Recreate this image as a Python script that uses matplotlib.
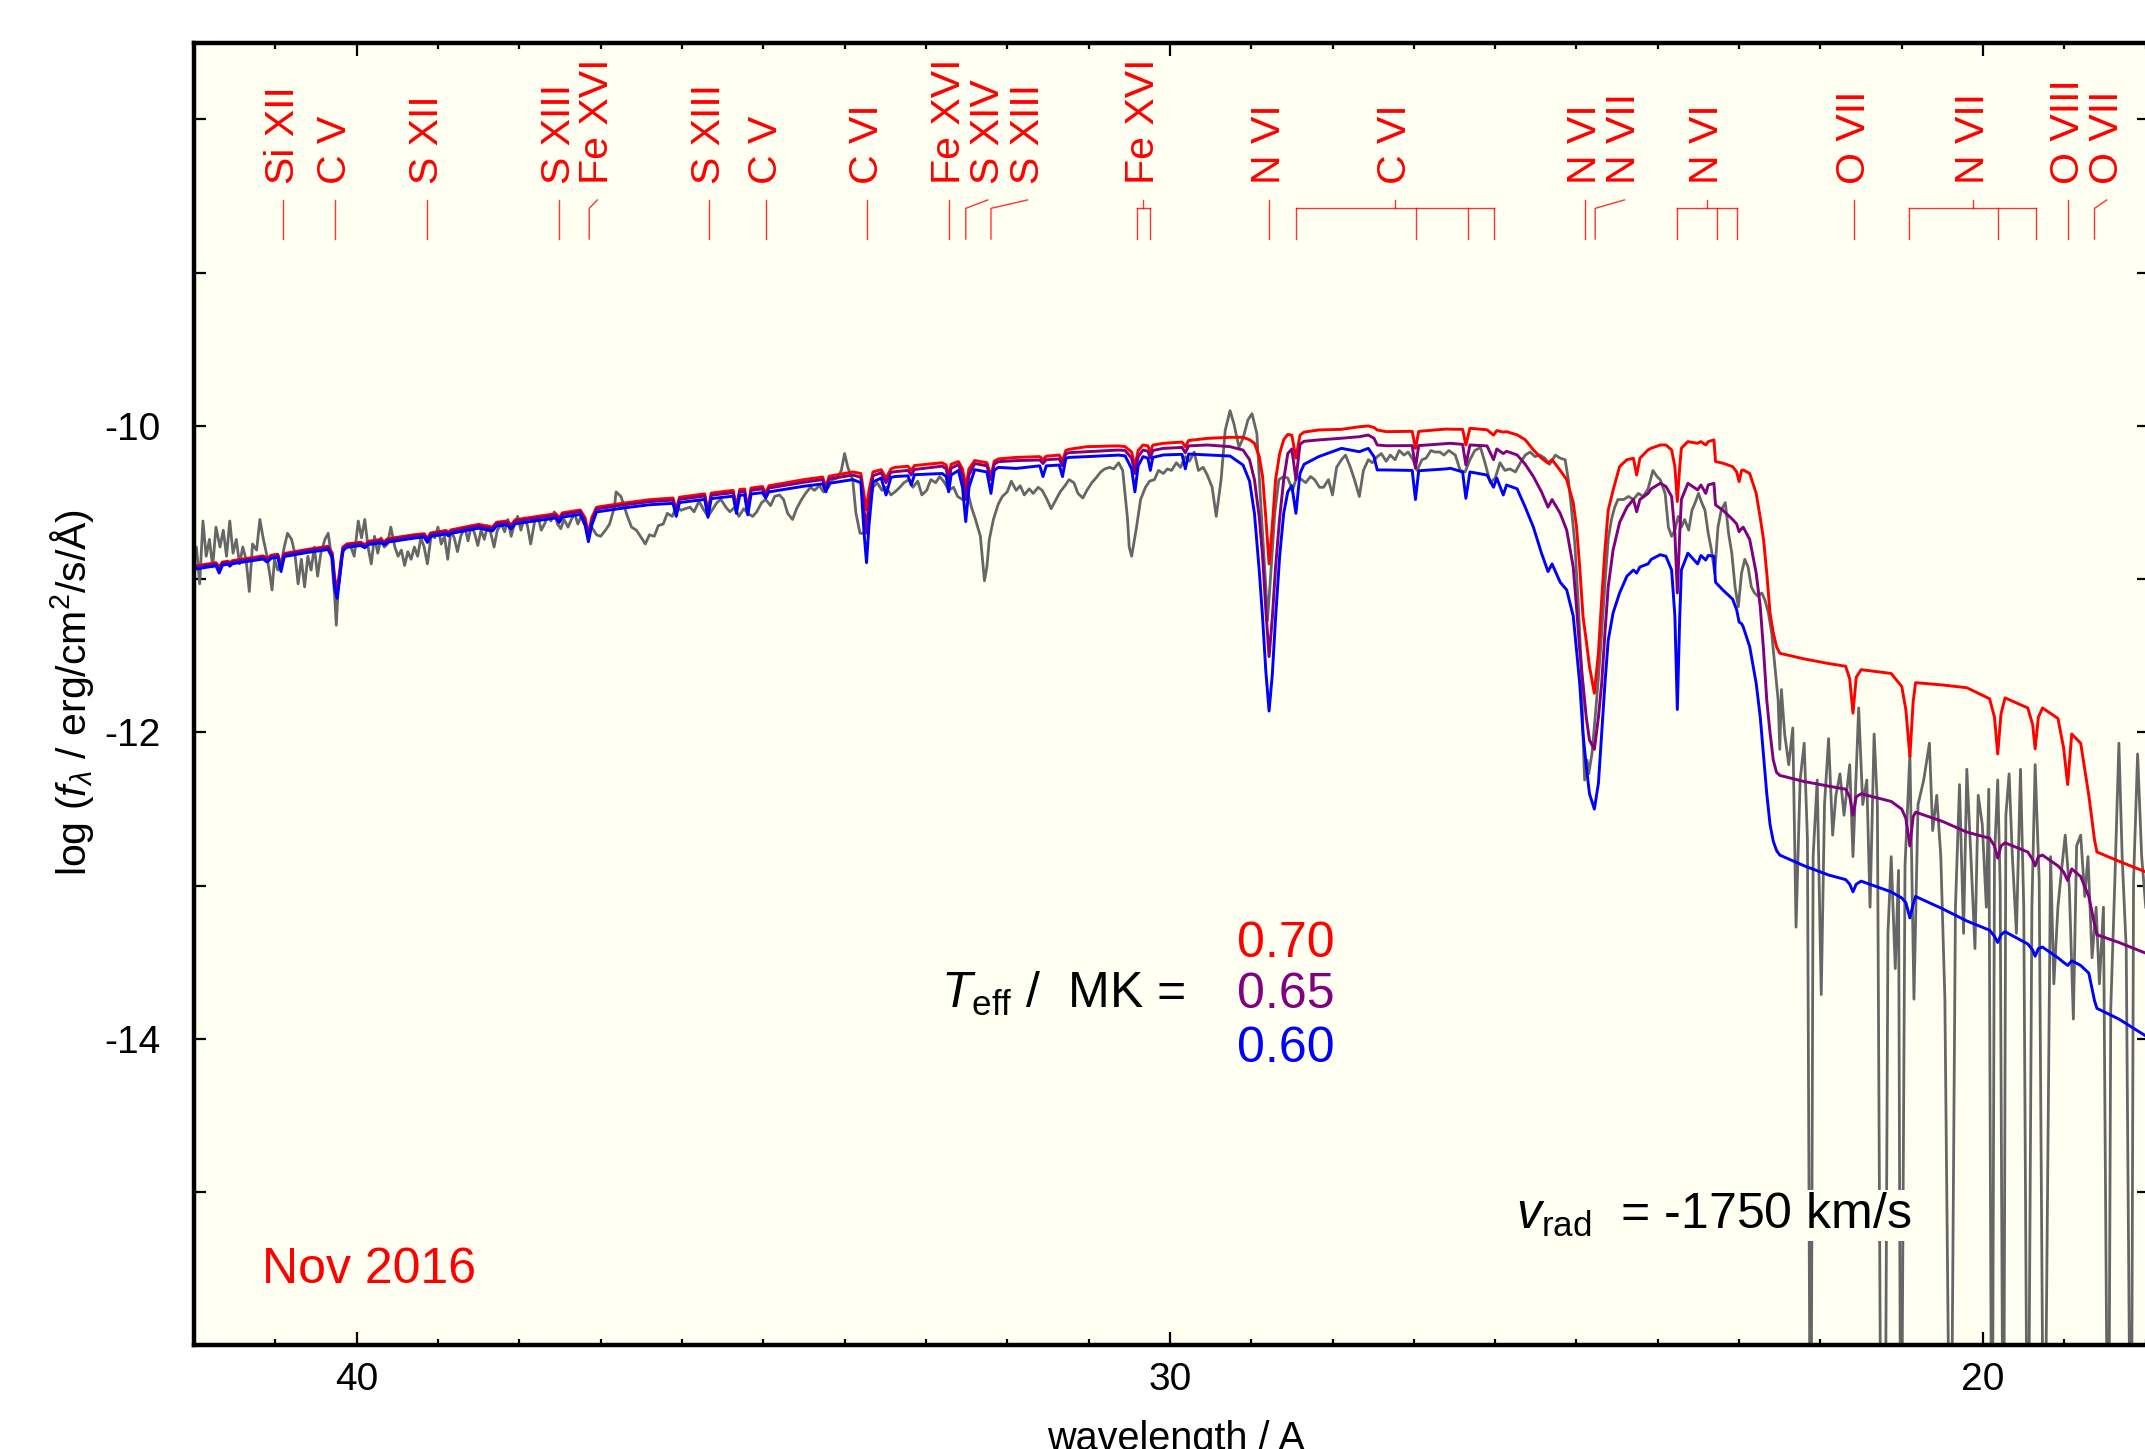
import matplotlib
matplotlib.use('Agg')
import matplotlib.pyplot as plt
from matplotlib.ticker import FixedLocator, MultipleLocator, FixedFormatter

plt.rcParams['font.family'] = ['Liberation Sans', 'DejaVu Sans']
plt.rcParams['mathtext.fontset'] = 'custom'
plt.rcParams['mathtext.rm'] = 'Liberation Sans'
plt.rcParams['mathtext.it'] = 'Liberation Sans:italic'
plt.rcParams['mathtext.bf'] = 'Liberation Sans:bold'
plt.rcParams['axes.unicode_minus'] = False

# observed spectrum, Nov 2016: (wavelength / A, log f_lambda)
observed = [
    (42.00, -10.80), (41.97, -10.79), (41.93, -11.03), (41.89, -10.62), (41.85, -10.85), (41.81, -10.74),
    (41.77, -10.92), (41.73, -10.66), (41.68, -10.79), (41.64, -10.68), (41.60, -10.85), (41.56, -10.62),
    (41.52, -10.83), (41.48, -10.74), (41.44, -10.90), (41.40, -10.79), (41.36, -10.87), (41.32, -11.08),
    (41.28, -10.77), (41.23, -10.81), (41.19, -10.61), (41.15, -10.73), (41.11, -10.83), (41.07, -10.96),
    (41.04, -11.07), (41.01, -10.87), (40.97, -10.94), (40.93, -10.90), (40.89, -10.79), (40.85, -10.70),
    (40.80, -10.74), (40.76, -10.83), (40.72, -11.03), (40.68, -10.87), (40.64, -11.05), (40.60, -10.85),
    (40.56, -10.94), (40.52, -10.79), (40.48, -10.98), (40.44, -10.83), (40.39, -10.74), (40.35, -10.70),
    (40.31, -10.85), (40.27, -11.11), (40.25, -11.30), (40.23, -11.09), (40.19, -10.87), (40.15, -10.79),
    (40.11, -10.77), (40.07, -10.79), (40.03, -10.85), (39.98, -10.62), (39.94, -10.73), (39.90, -10.61),
    (39.86, -10.79), (39.82, -10.90), (39.78, -10.72), (39.74, -10.83), (39.70, -10.73), (39.66, -10.79),
    (39.62, -10.77), (39.58, -10.66), (39.53, -10.79), (39.49, -10.85), (39.45, -10.81), (39.41, -10.91),
    (39.37, -10.82), (39.33, -10.87), (39.29, -10.79), (39.25, -10.85), (39.21, -10.73), (39.17, -10.79),
    (39.13, -10.90), (39.08, -10.70), (39.04, -10.73), (39.00, -10.66), (38.96, -10.77), (38.92, -10.72),
    (38.88, -10.87), (38.84, -10.68), (38.80, -10.73), (38.76, -10.82), (38.72, -10.72), (38.67, -10.66),
    (38.63, -10.75), (38.59, -10.65), (38.55, -10.70), (38.51, -10.78), (38.47, -10.68), (38.43, -10.74),
    (38.39, -10.65), (38.35, -10.70), (38.31, -10.79), (38.27, -10.68), (38.22, -10.64), (38.18, -10.69),
    (38.14, -10.61), (38.10, -10.72), (38.06, -10.64), (38.02, -10.59), (37.98, -10.68), (37.94, -10.60),
    (37.90, -10.65), (37.86, -10.77), (37.81, -10.62), (37.77, -10.59), (37.73, -10.68), (37.69, -10.64),
    (37.65, -10.59), (37.61, -10.62), (37.57, -10.56), (37.53, -10.64), (37.49, -10.67), (37.45, -10.61),
    (37.40, -10.66), (37.36, -10.61), (37.32, -10.57), (37.28, -10.64), (37.24, -10.59),
    (37.16, -10.66), (37.11, -10.66), (37.05, -10.71), (37.00, -10.72), (36.94, -10.68), (36.89, -10.64),
    (36.83, -10.53), (36.81, -10.43), (36.75, -10.46), (36.67, -10.59), (36.62, -10.66), (36.56, -10.68),
    (36.51, -10.72), (36.45, -10.77), (36.40, -10.71), (36.34, -10.72), (36.29, -10.65), (36.23, -10.64),
    (36.18, -10.57), (36.12, -10.59), (36.07, -10.53), (36.01, -10.55), (35.96, -10.54), (35.90, -10.53),
    (35.85, -10.56), (35.79, -10.49), (35.74, -10.54), (35.68, -10.59), (35.63, -10.55), (35.57, -10.50),
    (35.52, -10.48), (35.46, -10.53), (35.41, -10.56), (35.35, -10.53), (35.30, -10.59), (35.24, -10.54),
    (35.19, -10.57), (35.13, -10.59), (35.08, -10.56), (35.02, -10.50), (34.97, -10.48), (34.91, -10.52),
    (34.86, -10.46), (34.80, -10.45), (34.75, -10.48), (34.70, -10.57), (34.64, -10.61), (34.59, -10.54),
    (34.53, -10.48), (34.48, -10.44), (34.42, -10.40), (34.37, -10.42), (34.31, -10.39), (34.26, -10.43),
    (34.20, -10.40), (34.15, -10.35), (34.09, -10.34), (34.04, -10.29), (34.00, -10.18), (33.96, -10.27),
    (33.90, -10.35), (33.86, -10.57), (33.81, -10.70), (33.76, -10.70), (33.71, -10.55), (33.65, -10.40),
    (33.60, -10.37), (33.54, -10.42), (33.49, -10.40), (33.43, -10.45), (33.38, -10.43), (33.32, -10.40),
    (33.27, -10.37), (33.21, -10.35), (33.16, -10.40), (33.10, -10.36), (33.05, -10.45), (32.99, -10.42),
    (32.94, -10.35), (32.88, -10.37), (32.83, -10.33), (32.77, -10.37), (32.72, -10.42), (32.66, -10.40),
    (32.61, -10.46), (32.55, -10.48), (32.50, -10.40), (32.44, -10.53), (32.39, -10.61), (32.33, -10.72),
    (32.28, -11.01), (32.25, -10.92), (32.22, -10.74), (32.17, -10.61), (32.11, -10.51), (32.06, -10.46),
    (32.00, -10.43), (31.95, -10.36), (31.89, -10.42), (31.84, -10.39), (31.79, -10.45), (31.73, -10.41),
    (31.68, -10.44), (31.62, -10.40), (31.57, -10.42), (31.51, -10.48), (31.46, -10.54), (31.40, -10.48),
    (31.35, -10.43), (31.29, -10.39), (31.24, -10.35), (31.18, -10.37), (31.13, -10.44), (31.07, -10.47),
    (31.02, -10.42), (30.96, -10.37), (30.91, -10.34), (30.85, -10.30), (30.80, -10.28), (30.74, -10.27),
    (30.69, -10.28), (30.63, -10.24), (30.58, -10.29), (30.52, -10.61), (30.50, -10.79), (30.47, -10.85),
    (30.41, -10.66), (30.36, -10.48), (30.30, -10.40), (30.25, -10.36), (30.19, -10.35), (30.14, -10.29),
    (30.08, -10.31), (30.03, -10.28), (29.98, -10.29), (29.92, -10.24), (29.87, -10.27), (29.81, -10.20),
    (29.76, -10.23), (29.70, -10.17), (29.65, -10.29), (29.59, -10.27), (29.54, -10.32), (29.48, -10.40),
    (29.43, -10.59), (29.37, -10.35), (29.32, -10.03), (29.26, -9.90), (29.21, -9.99), (29.15, -10.14),
    (29.10, -10.08), (29.04, -9.96), (28.99, -9.92), (28.93, -10.05), (28.88, -10.53), (28.82, -11.05),
    (28.80, -11.27), (28.77, -11.05), (28.71, -10.57), (28.66, -10.35), (28.60, -10.33), (28.55, -10.34),
    (28.49, -10.42), (28.44, -10.33), (28.38, -10.35), (28.33, -10.37), (28.27, -10.33), (28.22, -10.35),
    (28.16, -10.40), (28.11, -10.40), (28.05, -10.35), (28.00, -10.45), (27.95, -10.27), (27.89, -10.22),
    (27.84, -10.19), (27.78, -10.27), (27.73, -10.35), (27.67, -10.46), (27.62, -10.29), (27.56, -10.22),
    (27.51, -10.24), (27.45, -10.20), (27.40, -10.18), (27.34, -10.23), (27.29, -10.19), (27.23, -10.22),
    (27.18, -10.16), (27.12, -10.19), (27.07, -10.17), (27.01, -10.22), (26.96, -10.29), (26.90, -10.22),
    (26.85, -10.21), (26.79, -10.16), (26.74, -10.17), (26.68, -10.17), (26.63, -10.19), (26.57, -10.16),
    (26.49, -10.19), (26.43, -10.29), (26.37, -10.30), (26.31, -10.22), (26.25, -10.16), (26.18, -10.14),
    (26.12, -10.25), (26.06, -10.37), (26.00, -10.34), (25.94, -10.24), (25.88, -10.29), (25.82, -10.28),
    (25.75, -10.30), (25.69, -10.24), (25.63, -10.19), (25.57, -10.17), (25.51, -10.20), (25.45, -10.19),
    (25.39, -10.21), (25.33, -10.25), (25.26, -10.19), (25.20, -10.21), (25.14, -10.22), (25.10, -10.35),
    (25.06, -10.55), (25.02, -10.77), (24.98, -11.14), (24.94, -11.57), (24.92, -12.01), (24.90, -12.31),
    (24.87, -12.18), (24.85, -12.27), (24.81, -12.14), (24.77, -11.90), (24.73, -11.64), (24.69, -11.35),
    (24.65, -11.03), (24.61, -10.74), (24.57, -10.61), (24.53, -10.53), (24.49, -10.48), (24.42, -10.48),
    (24.36, -10.46), (24.30, -10.48), (24.24, -10.44), (24.18, -10.46), (24.12, -10.41), (24.06, -10.29),
    (24.01, -10.33), (23.97, -10.35), (23.91, -10.44), (23.87, -10.66), (23.83, -10.72), (23.79, -10.68),
    (23.75, -10.59), (23.71, -10.66), (23.67, -10.61), (23.62, -10.68), (23.58, -10.55), (23.54, -10.50),
    (23.50, -10.44), (23.46, -10.50), (23.42, -10.55), (23.38, -10.70), (23.34, -10.81), (23.30, -10.96),
    (23.26, -10.66), (23.22, -10.55), (23.17, -10.50), (23.13, -10.70), (23.09, -10.83), (23.05, -11.05),
    (23.01, -11.18), (22.97, -10.96), (22.93, -10.87), (22.89, -10.92), (22.85, -11.05), (22.81, -11.09),
    (22.77, -11.11), (22.72, -11.09), (22.68, -11.14), (22.64, -11.22), (22.60, -11.35), (22.56, -11.57),
    (22.52, -11.79), (22.50, -12.11), (22.48, -11.72), (22.44, -12.01),
    (22.39, -12.21), (22.34, -11.97), (22.30, -13.27), (22.25, -12.31), (22.20, -12.07), (22.16, -12.70),
    (22.12, -17.50), (22.09, -12.81), (22.04, -12.31), (21.99, -13.71), (21.95, -12.47), (21.90, -12.04),
    (21.85, -12.67), (21.81, -12.41), (21.76, -12.27), (21.71, -12.54), (21.64, -12.21), (21.60, -12.81),
    (21.53, -11.84), (21.48, -12.47), (21.43, -12.31), (21.39, -13.14), (21.34, -12.01), (21.30, -12.47),
    (21.25, -17.50), (21.21, -17.50), (21.17, -13.31), (21.13, -12.81), (21.08, -13.54), (21.04, -12.90),
    (21.01, -17.50), (20.96, -12.87), (20.90, -12.14), (20.85, -13.74), (20.80, -12.47), (20.73, -12.31),
    (20.66, -12.07), (20.62, -12.64), (20.57, -12.41), (20.52, -12.81), (20.47, -13.74), (20.40, -17.50),
    (20.34, -13.14), (20.29, -12.34), (20.24, -13.31), (20.20, -12.24), (20.15, -12.81), (20.10, -13.41),
    (20.06, -12.41), (20.01, -12.60), (19.96, -13.14), (19.93, -12.37), (19.89, -17.50), (19.86, -12.81),
    (19.82, -12.31), (19.79, -13.00), (19.75, -17.50), (19.72, -12.54), (19.68, -12.27), (19.64, -12.81),
    (19.59, -13.31), (19.54, -12.24), (19.50, -13.14), (19.45, -17.50), (19.40, -13.14), (19.36, -12.21),
    (19.31, -12.97), (19.25, -17.50), (19.17, -12.81), (19.13, -13.64), (19.08, -13.14), (19.03, -12.87),
    (18.99, -12.67), (18.94, -13.01), (18.89, -13.87), (18.85, -12.74), (18.80, -12.67), (18.75, -13.07),
    (18.71, -12.81), (18.66, -13.47), (18.61, -13.14), (18.57, -13.64), (18.52, -13.14), (18.46, -17.50),
    (18.43, -13.80), (18.38, -12.97), (18.33, -12.07), (18.29, -12.81), (18.24, -13.41), (18.18, -17.50),
    (18.15, -12.97), (18.10, -12.14), (18.05, -12.81), (18.00, -13.14),
]

# model spectra: (wavelength, T_eff = 0.70 MK, 0.65 MK, 0.60 MK)
models = [
    (42.00, -10.915, -10.922, -10.935), (41.80, -10.898, -10.905, -10.918), (41.73, -10.892, -10.899, -10.912),
    (41.69, -10.920, -10.930, -10.960), (41.65, -10.888, -10.895, -10.908), (41.58, -10.882, -10.889, -10.902),
    (41.56, -10.895, -10.902, -10.915), (41.53, -10.879, -10.886, -10.899), (41.35, -10.864, -10.871, -10.884),
    (41.15, -10.848, -10.855, -10.868), (41.10, -10.862, -10.870, -10.888), (41.05, -10.843, -10.850, -10.863),
    (40.97, -10.837, -10.844, -10.857), (40.93, -10.905, -10.925, -10.950), (40.89, -10.832, -10.839, -10.852),
    (40.60, -10.805, -10.812, -10.825), (40.35, -10.785, -10.792, -10.806), (40.30, -10.830, -10.840, -10.860),
    (40.27, -10.990, -11.020, -11.060), (40.24, -11.070, -11.100, -11.125), (40.21, -10.950, -10.980, -11.000),
    (40.17, -10.790, -10.800, -10.815), (40.12, -10.770, -10.778, -10.792), (39.95, -10.758, -10.765, -10.780),
    (39.90, -10.775, -10.782, -10.795), (39.85, -10.752, -10.760, -10.774), (39.70, -10.740, -10.748, -10.762),
    (39.66, -10.755, -10.762, -10.776), (39.62, -10.736, -10.744, -10.758), (39.30, -10.710, -10.718, -10.732),
    (39.17, -10.703, -10.711, -10.725), (39.13, -10.735, -10.745, -10.760), (39.09, -10.698, -10.706, -10.720),
    (38.90, -10.682, -10.690, -10.705), (38.87, -10.695, -10.703, -10.718), (38.84, -10.678, -10.686, -10.701),
    (38.50, -10.642, -10.651, -10.667), (38.33, -10.660, -10.670, -10.685), (38.28, -10.628, -10.637, -10.653),
    (38.15, -10.620, -10.629, -10.645), (38.10, -10.645, -10.655, -10.672), (38.05, -10.612, -10.621, -10.638),
    (37.75, -10.588, -10.598, -10.615), (37.55, -10.572, -10.582, -10.600), (37.51, -10.600, -10.612, -10.630),
    (37.47, -10.567, -10.577, -10.595), (37.25, -10.548, -10.558, -10.577), (37.19, -10.600, -10.620, -10.650),
    (37.15, -10.710, -10.730, -10.755), (37.11, -10.600, -10.620, -10.650), (37.05, -10.530, -10.541, -10.561),
    (36.70, -10.502, -10.514, -10.534), (36.40, -10.481, -10.494, -10.514), (36.11, -10.470, -10.484, -10.505),
    (36.07, -10.545, -10.565, -10.590), (36.03, -10.465, -10.479, -10.500), (35.72, -10.443, -10.457, -10.479),
    (35.68, -10.560, -10.575, -10.596), (35.64, -10.438, -10.452, -10.474), (35.37, -10.420, -10.435, -10.458),
    (35.33, -10.530, -10.548, -10.570), (35.29, -10.415, -10.430, -10.453), (35.23, -10.411, -10.426, -10.449),
    (35.19, -10.540, -10.560, -10.580), (35.15, -10.405, -10.420, -10.444), (35.01, -10.395, -10.410, -10.435),
    (34.97, -10.440, -10.455, -10.470), (34.93, -10.390, -10.405, -10.430), (34.50, -10.350, -10.367, -10.393),
    (34.27, -10.333, -10.350, -10.378), (34.23, -10.400, -10.415, -10.430), (34.19, -10.328, -10.346, -10.374),
    (33.90, -10.300, -10.320, -10.350), (33.80, -10.310, -10.335, -10.370), (33.76, -10.450, -10.550, -10.700),
    (33.73, -10.548, -10.700, -10.892), (33.70, -10.420, -10.520, -10.650), (33.65, -10.300, -10.325, -10.365),
    (33.55, -10.285, -10.305, -10.340), (33.49, -10.340, -10.370, -10.450), (33.43, -10.280, -10.302, -10.336),
    (33.38, -10.270, -10.298, -10.330), (33.22, -10.263, -10.290, -10.325), (33.18, -10.290, -10.320, -10.385),
    (33.14, -10.258, -10.284, -10.318), (32.80, -10.240, -10.262, -10.310), (32.75, -10.255, -10.280, -10.330),
    (32.72, -10.330, -10.370, -10.430), (32.69, -10.250, -10.275, -10.320), (32.60, -10.232, -10.252, -10.290),
    (32.55, -10.280, -10.320, -10.400), (32.51, -10.396, -10.480, -10.624), (32.47, -10.280, -10.320, -10.400),
    (32.40, -10.225, -10.245, -10.285), (32.25, -10.240, -10.260, -10.300), (32.20, -10.330, -10.350, -10.440),
    (32.16, -10.230, -10.250, -10.290), (32.11, -10.215, -10.233, -10.270), (31.89, -10.205, -10.226, -10.277),
    (31.60, -10.200, -10.222, -10.260), (31.56, -10.220, -10.245, -10.330), (31.52, -10.197, -10.220, -10.260),
    (31.36, -10.190, -10.215, -10.255), (31.32, -10.230, -10.260, -10.330), (31.28, -10.160, -10.182, -10.212),
    (31.24, -10.152, -10.174, -10.205), (31.02, -10.135, -10.168, -10.200), (30.63, -10.130, -10.157, -10.190),
    (30.55, -10.135, -10.160, -10.195), (30.47, -10.170, -10.210, -10.280), (30.43, -10.265, -10.310, -10.430),
    (30.39, -10.160, -10.200, -10.260), (30.33, -10.124, -10.157, -10.200), (30.27, -10.130, -10.165, -10.210),
    (30.24, -10.170, -10.210, -10.290), (30.21, -10.125, -10.160, -10.205), (30.08, -10.113, -10.146, -10.189),
    (29.85, -10.105, -10.140, -10.185), (29.81, -10.135, -10.175, -10.280), (29.77, -10.095, -10.130, -10.183),
    (29.54, -10.081, -10.124, -10.189), (29.26, -10.074, -10.135, -10.196), (29.10, -10.074, -10.157, -10.255),
    (29.02, -10.090, -10.220, -10.360), (28.96, -10.113, -10.350, -10.570), (28.90, -10.200, -10.600, -10.950),
    (28.86, -10.330, -10.850, -11.250), (28.82, -10.600, -11.200, -11.600), (28.78, -10.900, -11.505, -11.860),
    (28.74, -10.650, -11.250, -11.620), (28.70, -10.350, -10.920, -11.250), (28.65, -10.180, -10.600, -10.850),
    (28.60, -10.090, -10.350, -10.570), (28.55, -10.055, -10.180, -10.430), (28.50, -10.060, -10.150, -10.390),
    (28.45, -10.210, -10.350, -10.570), (28.40, -10.060, -10.120, -10.310), (28.35, -10.040, -10.100, -10.250),
    (28.17, -10.026, -10.091, -10.200), (27.89, -10.022, -10.080, -10.146), (27.67, -10.005, -10.070, -10.168),
    (27.56, -10.000, -10.059, -10.146), (27.49, -10.010, -10.080, -10.200), (27.45, -10.026, -10.124, -10.287),
    (27.34, -10.037, -10.129, -10.287), (27.02, -10.035, -10.128, -10.290), (26.98, -10.146, -10.276, -10.480),
    (26.94, -10.035, -10.128, -10.292), (26.60, -10.020, -10.115, -10.280), (26.55, -10.021, -10.113, -10.276),
    (26.40, -10.022, -10.120, -10.300), (26.36, -10.124, -10.254, -10.472), (26.31, -10.015, -10.124, -10.300),
    (26.10, -10.025, -10.130, -10.320), (26.02, -10.060, -10.220, -10.400), (25.98, -10.030, -10.150, -10.340),
    (25.90, -10.040, -10.180, -10.450), (25.86, -10.037, -10.165, -10.385), (25.73, -10.058, -10.189, -10.410),
    (25.63, -10.090, -10.250, -10.530), (25.53, -10.156, -10.330, -10.660), (25.43, -10.210, -10.430, -10.830),
    (25.35, -10.243, -10.530, -10.950), (25.30, -10.220, -10.480, -10.900), (25.20, -10.290, -10.570, -11.020),
    (25.12, -10.350, -10.680, -11.070), (25.04, -10.500, -10.920, -11.240), (25.00, -10.657, -11.180, -11.460),
    (24.96, -10.920, -11.460, -11.680), (24.92, -11.240, -11.680, -12.005), (24.88, -11.400, -11.900, -12.220),
    (24.84, -11.570, -12.050, -12.400), (24.78, -11.744, -12.110, -12.500), (24.73, -11.480, -11.900, -12.330),
    (24.69, -11.130, -11.680, -12.005), (24.65, -10.810, -11.350, -11.680), (24.61, -10.550, -11.050, -11.400),
    (24.55, -10.420, -10.810, -11.220), (24.47, -10.265, -10.630, -11.090), (24.38, -10.220, -10.530, -10.980),
    (24.30, -10.211, -10.480, -10.940), (24.26, -10.320, -10.560, -10.960), (24.22, -10.211, -10.480, -10.920),
    (24.12, -10.156, -10.440, -10.900), (24.08, -10.145, -10.410, -10.870), (23.97, -10.124, -10.374, -10.840),
    (23.90, -10.124, -10.395, -10.850), (23.83, -10.156, -10.460, -10.940), (23.79, -10.265, -10.700, -11.240),
    (23.76, -10.493, -11.090, -11.850), (23.73, -10.265, -10.700, -11.240), (23.71, -10.145, -10.480, -10.940),
    (23.63, -10.102, -10.374, -10.830), (23.51, -10.113, -10.417, -10.900), (23.47, -10.102, -10.385, -10.845),
    (23.41, -10.124, -10.440, -10.875), (23.38, -10.102, -10.385, -10.845), (23.31, -10.091, -10.374, -10.850),
    (23.29, -10.232, -10.515, -11.020), (23.20, -10.243, -10.550, -11.070), (23.08, -10.265, -10.610, -11.130),
    (23.03, -10.300, -10.640, -11.200), (23.00, -10.363, -10.690, -11.280), (22.97, -10.290, -10.670, -11.290),
    (22.95, -10.287, -10.660, -11.310), (22.87, -10.310, -10.740, -11.440), (22.79, -10.440, -10.960, -11.680),
    (22.74, -10.600, -11.180, -11.900), (22.70, -10.740, -11.460, -12.150), (22.66, -10.960, -11.790, -12.400),
    (22.62, -11.220, -12.000, -12.600), (22.58, -11.350, -12.180, -12.710), (22.54, -11.440, -12.260, -12.770),
    (22.50, -11.483, -12.280, -12.800), (22.20, -11.520, -12.320, -12.870), (21.90, -11.550, -12.350, -12.930),
    (21.69, -11.568, -12.370, -12.960), (21.64, -11.650, -12.420, -12.990), (21.60, -11.874, -12.540, -13.040),
    (21.56, -11.640, -12.420, -12.990), (21.50, -11.590, -12.400, -12.970), (21.13, -11.615, -12.450, -13.040),
    (21.00, -11.700, -12.500, -13.080), (20.95, -11.850, -12.560, -13.110), (20.90, -12.157, -12.740, -13.210),
    (20.86, -11.800, -12.550, -13.120), (20.83, -11.675, -12.520, -13.070), (20.50, -11.690, -12.580, -13.150),
    (20.20, -11.708, -12.650, -13.230), (19.92, -11.780, -12.690, -13.290), (19.86, -11.900, -12.740, -13.330),
    (19.82, -12.140, -12.820, -13.370), (19.78, -11.880, -12.740, -13.320), (19.73, -11.774, -12.720, -13.300),
    (19.45, -11.840, -12.780, -13.380), (19.39, -11.950, -12.830, -13.420), (19.36, -12.107, -12.870, -13.460),
    (19.32, -11.900, -12.810, -13.410), (19.27, -11.840, -12.800, -13.400), (19.08, -11.908, -12.870, -13.470),
    (19.01, -12.100, -12.910, -13.500), (18.96, -12.340, -12.966, -13.520), (18.91, -12.010, -12.890, -13.490),
    (18.80, -12.070, -12.940, -13.520), (18.70, -12.410, -13.070, -13.570), (18.63, -12.700, -13.250, -13.750),
    (18.60, -12.780, -13.320, -13.800), (18.33, -12.840, -13.370, -13.870), (18.00, -12.910, -13.440, -13.980),
]

obs_wave = [p[0] for p in observed]
obs_flux = [p[1] for p in observed]
model_wave = [m[0] for m in models]
flux_070 = [m[1] for m in models]
flux_065 = [m[2] for m in models]
flux_060 = [m[3] for m in models]

# line identifications
single_lines = [(40.91, 'Si XII'), (40.27, 'C V'), (39.14, 'S XII'), (37.51, 'S XIII'), (35.67, 'S XIII'),
                (34.97, 'C V'), (33.73, 'C VI'), (32.72, 'Fe XVI'), (28.78, 'N VI'), (24.89, 'N VI'),
                (21.59, 'O VII'), (18.96, 'O VIII')]
kinked_lines = [(37.14, 37.04, 'Fe XVI'), (32.51, 32.24, 'S XIV'), (32.20, 31.75, 'S XIII'),
                (24.77, 24.41, 'N VII'), (18.63, 18.48, 'O VII')]
line_groups = [([30.41, 30.24], 30.33, 'Fe XVI'), ([28.45, 26.97, 26.34, 26.01], 27.23, 'C VI'),
               ([23.77, 23.27, 23.02], 23.39, 'N VI'), ([20.91, 19.82, 19.35], 20.13, 'N VII')]

teff_labels = ['0.70', '0.65', '0.60']
colors = ['#ff0000', '#800080', '#0000ff']
bg = '#fffff2'

fig = plt.figure(figsize=(21.45, 14.49), dpi=100)
ax = fig.add_axes([0.09044, 0.07143, 0.91142, 0.8990])
ax.set_facecolor(bg)

ax.plot(obs_wave, obs_flux, color='#666666', lw=2.0)
for flux, c in zip([flux_070, flux_065, flux_060], colors):
    ax.plot(model_wave, flux, color=c, lw=2.1)

# line marks
y_bot, y_knee, y_top, y_lab = -8.78, -8.58, -8.525, -8.42
mark_kw = dict(color='red', lw=1.0, alpha=0.8)
lab_kw = dict(color='red', fontsize=29.5, rotation=90, ha='center', va='bottom')
for wl, name in single_lines:
    ax.plot([wl, wl], [y_bot, y_top], **mark_kw)
    ax.text(wl, y_lab, name, **lab_kw)
for wl, wl_lab, name in kinked_lines:
    ax.plot([wl, wl, wl_lab], [y_bot, y_knee, y_top], **mark_kw)
    ax.text(wl_lab, y_lab, name, **lab_kw)
for wls, wl_lab, name in line_groups:
    for wl in wls:
        ax.plot([wl, wl], [y_bot, y_knee], **mark_kw)
    ax.plot([max(wls), min(wls)], [y_knee, y_knee], **mark_kw)
    ax.plot([wl_lab, wl_lab], [y_knee, y_top], **mark_kw)
    ax.text(wl_lab, y_lab, name, **lab_kw)

# annotations
ax.text(41.16, -15.59, 'Nov 2016', color='red', fontsize=36, ha='left', va='baseline')
ax.text(32.82, -13.80, r'$T_{\rm eff}$ /  MK =', fontsize=36, ha='left', va='baseline')
for lab, c, yy in zip(teff_labels, colors, [-13.465, -13.80, -14.15]):
    ax.text(29.18, yy, lab, color=c, fontsize=36, ha='left', va='baseline')
ax.text(25.74, -15.24, r'$v_{\rm rad}$  = -1750 km/s', fontsize=36, ha='left', va='baseline',
        bbox=dict(facecolor=bg, edgecolor='none', pad=1))

ax.set_xlim(42.0, 17.96)
ax.set_ylim(-16, -7.5)

ax.xaxis.set_major_locator(FixedLocator([40, 30, 20]))
ax.xaxis.set_minor_locator(MultipleLocator(1))
ax.set_xticklabels(['40', '30', '20'])
ax.yaxis.set_major_locator(FixedLocator(list(range(-16, -7))))
ax.yaxis.set_major_formatter(FixedFormatter(['', '', '-14', '', '-12', '', '-10', '', '']))

ax.tick_params(which='both', direction='in', top=True, right=True, width=1.6, labelsize=28)
ax.tick_params(axis='x', which='major', length=9.4, pad=12)
ax.tick_params(axis='x', which='minor', length=4.3)
ax.tick_params(axis='y', which='major', length=8.6, pad=24)
for side in ['left', 'bottom', 'top', 'right']:
    ax.spines[side].set_linewidth(3.2)

fig.text(72.5 / 2145, 1 - 692.5 / 1449, r'log ($f_\lambda$ / erg/cm$^2$/s/Å)', fontsize=29.5,
         rotation=90, ha='center', va='center')
fig.text(1176 / 2145, 1 - 1420 / 1449, 'wavelength / A', fontsize=28.5, ha='center', va='top')

fig.savefig('out.png', dpi=100, facecolor='white')
